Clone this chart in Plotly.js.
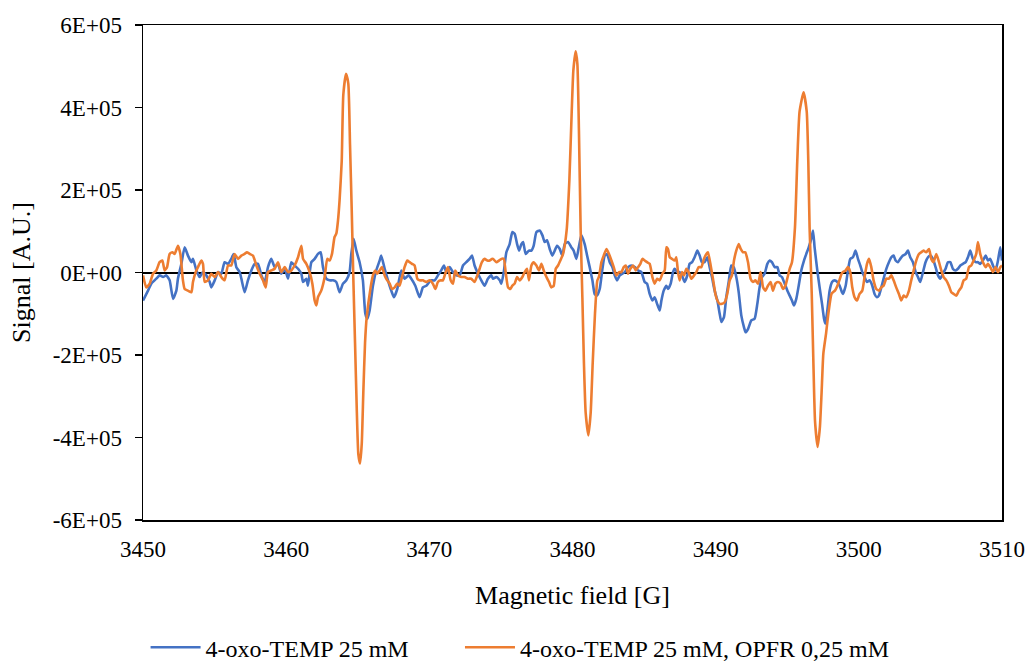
<!DOCTYPE html>
<html>
<head>
<meta charset="utf-8">
<script src="https://cdn.plot.ly/plotly-3.0.1.min.js"></script>
<style>html,body{margin:0;padding:0;background:#fff;}#chart{width:1028px;height:664px;}</style>
</head>
<body>
<div id="chart"></div>
<script>
// Series names
const seriesNames = ["4-oxo-TEMP 25 mM", "4-oxo-TEMP 25 mM, OPFR 0,25 mM"];

// Blue series: 4-oxo-TEMP 25 mM
const blueField = [
 3450.00,3450.35,3450.58,3450.93,3451.16,3451.40,3451.63,3451.86,3452.10,3452.33,
 3452.44,3452.68,3452.91,3453.14,3453.38,3453.49,3453.73,3453.96,3454.19,3454.42,
 3454.66,3454.77,3455.01,3455.24,3455.47,3455.70,3455.94,3456.17,3456.33,3456.52,
 3456.75,3456.87,3457.10,3457.33,3457.57,3457.80,3458.03,3458.27,3458.50,3458.73,
 3458.96,3459.20,3459.43,3459.66,3459.90,3460.13,3460.36,3460.59,3460.83,3461.06,
 3461.18,3461.41,3461.52,3461.76,3461.99,
 3462.22,3462.41,3462.57,3462.80,3463.03,3463.27,3463.50,3463.73,3463.97,3464.20,
 3464.43,3464.55,3464.71,3464.90,3465.13,3465.36,3465.53,3465.67,3465.83,3466.06,
 3466.29,3466.53,3466.64,3466.88,3467.11,3467.34,3467.53,3467.76,3468.04,3468.27,
 3468.55,3468.74,3469.02,3469.32,3469.55,3469.79,3470.09,3470.37,3470.60,3470.83,
 3471.02,3471.18,3471.42,3471.65,3471.88,3472.12,3472.35,3472.58,3472.81,3472.98,
 3473.16,3473.40,3473.63,3473.86,3474.09,3474.33,
 3474.45,3474.68,3474.92,3475.03,3475.20,3475.38,3475.61,3475.80,3475.96,3476.13,
 3476.27,3476.43,3476.55,3476.73,3476.96,3477.13,3477.29,3477.48,3477.71,3477.90,
 3478.06,3478.22,3478.41,3478.59,3478.76,3478.92,3479.11,3479.29,3479.46,3479.69,
 3479.92,3480.08,3480.27,3480.46,3480.62,3480.85,3481.02,3481.20,3481.39,3481.55,
 3481.71,3481.90,3482.09,3482.25,3482.41,3482.60,3482.79,3482.95,3483.11,3483.30,
 3483.48,3483.65,3483.88,3484.11,3484.35,3484.58,3484.81,3485.04,3485.21,3485.39,
 3485.58,3485.74,3485.91,3486.09,3486.21,3486.37,3486.56,
 3486.67,3486.86,3487.02,3487.14,3487.32,3487.48,3487.65,3487.83,3488.02,3488.18,
 3488.35,3488.53,3488.72,3488.88,3489.04,3489.23,3489.42,3489.58,3489.74,3489.93,
 3490.12,3490.28,3490.40,3490.58,3490.74,3490.91,3491.09,3491.26,3491.44,3491.61,
 3491.79,3491.98,3492.09,3492.26,3492.49,3492.72,3492.91,3493.07,3493.24,3493.42,
 3493.61,3493.77,3493.93,3494.12,3494.31,3494.47,3494.63,3494.82,3495.01,3495.17,
 3495.33,3495.47,3495.63,3495.80,3495.98,3496.17,3496.33,3496.50,3496.68,3496.80,
 3496.91,3497.10,3497.26,3497.43,3497.57,3497.66,3497.80,3497.96,3498.13,3498.31,
 3498.50,3498.66,3498.82,
 3498.89,3499.08,3499.24,3499.40,3499.59,3499.77,3499.94,3500.10,3500.24,3500.40,
 3500.57,3500.75,3500.94,3501.10,3501.26,3501.40,3501.57,3501.73,3501.92,3502.10,
 3502.27,3502.43,3502.57,3502.73,3502.89,3503.08,3503.27,3503.43,3503.59,3503.78,
 3503.97,3504.13,3504.29,3504.48,3504.66,3504.83,3504.99,3505.18,3505.36,3505.53,
 3505.69,3505.87,3506.06,3506.22,3506.39,3506.57,3506.76,3506.92,3507.09,3507.27,
 3507.46,3507.62,3507.78,3507.97,3508.16,3508.32,3508.48,3508.67,3508.86,3509.02,
 3509.18,3509.37,3509.55,3509.72,3509.88,3510.00
];
const blueSignal = [
 -68000,-44000,-27000,-15000,-7000,-11000,-7000,-19000,-64000,-44000,
 -15000,21000,61000,41000,25000,33000,5000,-11000,1000,-7000,
 -23000,-36000,-19000,1000,-3000,25000,21000,33000,45000,13000,
 1000,-15000,-48000,-19000,5000,21000,21000,-7000,-23000,13000,
 33000,13000,21000,-3000,9000,-15000,25000,17000,9000,-3000,
 -23000,-15000,-32000,25000,33000,
 45000,49000,13000,-15000,-19000,-19000,-23000,-48000,-27000,-19000,
 1000,45000,82000,53000,25000,-19000,-100000,-112000,-92000,-32000,
 5000,29000,41000,9000,-19000,-44000,-60000,-40000,5000,-15000,
 -7000,-15000,-32000,-60000,-36000,-32000,-19000,-19000,-7000,5000,
 17000,1000,13000,1000,-7000,-7000,17000,25000,33000,41000,
 17000,-3000,-19000,-32000,-15000,-7000,
 -15000,-11000,-19000,-27000,1000,49000,69000,98000,94000,69000,
 53000,69000,74000,45000,53000,53000,65000,98000,102000,90000,
 74000,78000,57000,41000,53000,65000,57000,41000,69000,74000,
 61000,53000,33000,65000,90000,69000,41000,13000,-19000,-52000,
 -56000,-40000,9000,41000,45000,25000,13000,-7000,-19000,-7000,
 -3000,1000,13000,17000,13000,5000,1000,-23000,-27000,-52000,
 -68000,-60000,-76000,-92000,-68000,-44000,-32000,
 -40000,-27000,1000,9000,1000,1000,-7000,-23000,-7000,21000,
 25000,37000,53000,41000,25000,25000,37000,13000,-11000,-44000,
 -68000,-100000,-120000,-108000,-60000,-23000,17000,13000,-11000,-48000,
 -104000,-133000,-145000,-137000,-116000,-112000,-76000,-36000,-11000,-3000,
 21000,29000,25000,13000,13000,-7000,-11000,-27000,-44000,-56000,
 -68000,-80000,-64000,-32000,5000,29000,45000,61000,82000,102000,
 61000,5000,-36000,-76000,-112000,-124000,-92000,-44000,-23000,-19000,
 -23000,-32000,-48000,
 -52000,-32000,5000,33000,37000,53000,33000,17000,1000,-11000,
 -23000,-19000,-32000,-52000,-60000,-56000,-36000,-15000,9000,25000,
 37000,41000,29000,25000,33000,41000,45000,53000,37000,25000,
 1000,-11000,-23000,1000,25000,37000,41000,33000,13000,-7000,
 -15000,-3000,9000,25000,25000,9000,5000,9000,17000,21000,
 25000,37000,53000,33000,25000,25000,21000,29000,41000,29000,
 33000,17000,5000,29000,61000,29000
];

// Orange series: 4-oxo-TEMP 25 mM, OPFR 0,25 mM
const orangeField = [
 3450.00,3450.23,3450.47,3450.70,3450.93,3451.16,3451.35,3451.51,3451.68,3451.86,
 3452.05,3452.21,3452.44,3452.61,3452.79,3452.91,3453.14,3453.38,3453.49,3453.68,
 3453.84,3454.07,3454.19,3454.31,3454.54,3454.77,3455.01,3455.24,3455.47,3455.70,
 3455.94,3456.17,3456.40,3456.64,3456.87,3457.10,3457.26,3457.45,3457.68,3457.92,
 3458.15,3458.38,3458.57,3458.73,3458.96,3459.20,3459.43,3459.66,3459.90,3460.13,
 3460.36,3460.59,3460.83,3461.06,3461.18,3461.41,3461.64,3461.83,3461.99,3462.11,
 3462.22,3462.45,3462.69,3462.87,3463.03,3463.20,3463.38,3463.50,3463.62,3463.73,
 3463.88,3463.99,3464.18,3464.34,3464.46,3464.58,3464.69,3464.81,3464.93,3465.04,
 3465.16,3465.28,3465.39,3465.51,3465.62,3465.90,3466.06,3466.22,3466.36,3466.53,
 3466.69,3466.88,3467.06,3467.23,3467.39,3467.58,3467.76,3467.92,3468.09,3468.27,
 3468.46,3468.62,3468.79,3468.97,3469.16,3469.32,3469.55,3469.79,3470.02,3470.25,
 3470.42,3470.60,3470.79,3470.95,3471.11,3471.30,3471.49,3471.65,3471.81,3472.00,
 3472.23,3472.46,3472.70,3472.93,3473.16,3473.35,3473.51,3473.67,3473.86,3474.05,
 3474.21,3474.37,
 3474.45,3474.68,3474.87,3475.03,3475.20,3475.33,3475.50,3475.66,3475.80,3475.96,
 3476.13,3476.31,3476.50,3476.66,3476.82,3476.96,3477.13,3477.29,3477.48,3477.66,
 3477.83,3477.99,3478.18,3478.36,3478.52,3478.69,3478.83,3478.99,3479.15,3479.34,
 3479.59,3479.78,3479.94,3480.06,3480.22,3480.34,3480.45,3480.57,3480.69,3480.80,
 3480.92,3481.11,3481.27,3481.41,3481.57,3481.73,3481.85,3482.02,3482.18,3482.37,
 3482.55,3482.72,3482.88,3483.06,3483.25,3483.41,3483.58,3483.72,3483.88,3484.04,
 3484.23,3484.42,3484.58,3484.74,3484.88,3485.04,3485.21,3485.39,3485.58,3485.74,
 3485.91,3486.09,3486.28,3486.44,3486.56,
 3486.67,3486.79,3486.95,3487.14,3487.25,3487.37,3487.48,3487.65,3487.79,3487.95,
 3488.11,3488.30,3488.49,3488.65,3488.81,3489.00,3489.18,3489.35,3489.46,3489.65,
 3489.81,3489.98,3490.12,3490.28,3490.44,3490.63,3490.81,3490.98,3491.14,3491.28,
 3491.44,3491.61,3491.75,3491.91,3492.07,3492.26,3492.44,3492.61,3492.77,3492.96,
 3493.14,3493.31,3493.47,3493.65,3493.84,3494.00,3494.17,3494.35,3494.54,3494.70,
 3494.87,3495.00,3495.17,3495.33,3495.54,3495.70,3495.86,3496.14,3496.36,3496.47,
 3496.56,3496.71,3496.82,3496.94,3497.12,3497.28,3497.40,3497.52,3497.71,3497.87,
 3498.10,3498.33,3498.56,3498.80,
 3498.89,3499.08,3499.24,3499.40,3499.54,3499.70,3499.87,3500.05,3500.24,3500.40,
 3500.57,3500.71,3500.87,3501.03,3501.22,3501.40,3501.57,3501.73,3501.92,3502.10,
 3502.27,3502.43,3502.61,3502.80,3502.96,3503.13,3503.31,3503.50,3503.66,3503.83,
 3504.01,3504.20,3504.36,3504.52,3504.71,3504.90,3505.06,3505.22,3505.41,3505.60,
 3505.76,3505.92,3506.11,3506.29,3506.46,3506.62,3506.81,3506.99,3507.16,3507.32,
 3507.50,3507.69,3507.85,3508.02,3508.20,3508.32,3508.48,3508.67,3508.86,3509.02,
 3509.18,3509.37,3509.55,3509.72,3509.88,3510.00
];
const orangeSignal = [
 -7000,-36000,-27000,-3000,5000,25000,29000,5000,13000,45000,
 49000,45000,65000,45000,-19000,-40000,-44000,-48000,-23000,1000,
 13000,29000,21000,-23000,-19000,-3000,-11000,1000,-11000,-19000,
 17000,17000,45000,33000,41000,45000,49000,45000,41000,17000,
 -3000,-19000,-36000,1000,5000,9000,25000,1000,13000,1000,
 5000,17000,37000,65000,33000,21000,1000,-27000,-68000,-80000,
 -60000,-44000,-11000,33000,29000,45000,86000,94000,126000,175000,
 270000,430000,482000,458000,310000,150000,-12000,-170000,-330000,-440000,
 -463000,-415000,-290000,-170000,-110000,-36000,-7000,5000,-3000,5000,
 13000,-7000,-19000,-27000,-40000,-36000,-27000,-32000,-11000,13000,
 29000,25000,21000,17000,-15000,-19000,-19000,-23000,-19000,-27000,
 -40000,-23000,-19000,-19000,-3000,13000,-19000,-27000,5000,-7000,
 -11000,-11000,-15000,-15000,-23000,-7000,9000,25000,33000,29000,
 29000,33000,
 33000,25000,29000,33000,33000,1000,-36000,-40000,-32000,-27000,
 -11000,-19000,-11000,1000,9000,-19000,17000,25000,17000,5000,
 21000,5000,-11000,-23000,-36000,-32000,9000,17000,29000,45000,
 102000,223000,385000,490000,536000,506000,344000,102000,-61000,-220000,
 -340000,-395000,-340000,-220000,-100000,-20000,-10000,25000,41000,57000,
 45000,29000,13000,-7000,1000,1000,13000,17000,-3000,9000,
 17000,5000,13000,21000,33000,29000,25000,21000,-11000,-27000,
 -15000,-19000,-3000,5000,61000,
 57000,37000,33000,29000,37000,1000,-19000,1000,-7000,9000,
 1000,-15000,-7000,1000,13000,13000,33000,45000,49000,17000,
 -15000,-52000,-68000,-76000,-76000,-72000,-52000,-19000,-7000,29000,
 53000,69000,57000,49000,49000,25000,-15000,-23000,-19000,-27000,
 1000,-36000,-44000,-32000,-23000,-44000,-27000,-23000,-27000,-40000,
 -32000,-15000,9000,25000,110000,270000,390000,437000,390000,270000,
 110000,-51000,-210000,-360000,-423000,-375000,-290000,-197000,-148000,-100000,
 -51000,-44000,-27000,-3000,
 1000,5000,13000,1000,-36000,-60000,-68000,-52000,-44000,-11000,
 21000,33000,13000,-19000,-40000,-44000,-36000,-32000,-15000,-15000,
 -7000,-19000,-36000,-52000,-68000,-56000,-60000,-44000,-19000,5000,
 29000,45000,49000,53000,49000,57000,33000,25000,45000,25000,
 5000,-11000,-19000,-32000,-48000,-52000,-56000,-44000,-36000,-19000,
 -15000,13000,17000,29000,45000,74000,45000,25000,13000,21000,
 13000,1000,13000,1000,13000,17000
];

// Axis ticks
const xTickVals = [3450, 3460, 3470, 3480, 3490, 3500, 3510];
const yTickVals = [-600000, -400000, -200000, 0, 200000, 400000, 600000];
const yTickText = ["-6E+05", "-4E+05", "-2E+05", "0E+00", "2E+05", "4E+05", "6E+05"];

const serif = "'Liberation Serif', 'Times New Roman', serif";

const traces = [
  {x: blueField, y: blueSignal, name: seriesNames[0], type: 'scatter', mode: 'lines', legend: 'legend',
   line: {color: '#4472C4', width: 2.6, shape: 'spline', smoothing: 0.5}},
  {x: orangeField, y: orangeSignal, name: seriesNames[1], type: 'scatter', mode: 'lines', legend: 'legend2',
   line: {color: '#ED7D31', width: 2.6, shape: 'spline', smoothing: 0.5}}
];

const legendFont = {family: serif, size: 24, color: '#000'};

const layout = {
  width: 1028, height: 664,
  margin: {l: 143, r: 26, t: 25, b: 144, autoexpand: false},
  paper_bgcolor: '#ffffff', plot_bgcolor: '#ffffff',
  font: {family: serif, color: '#000000', size: 23},
  showlegend: true,
  legend: {orientation: 'h', x: 0.003, xanchor: 'left', y: -0.258, yanchor: 'middle',
           itemwidth: 50, font: legendFont, bgcolor: 'rgba(0,0,0,0)'},
  legend2: {orientation: 'h', x: 0.369, xanchor: 'left', y: -0.258, yanchor: 'middle',
           itemwidth: 50, font: legendFont, bgcolor: 'rgba(0,0,0,0)'},
  xaxis: {
    range: [3450, 3510], tickvals: xTickVals, ticks: '', showgrid: false, zeroline: false,
    showline: true, mirror: true, linecolor: '#000', linewidth: 1.5, automargin: false,
    tickfont: {family: serif, size: 23, color: '#000'}, ticklabelstandoff: 8,
    title: {text: 'Magnetic field [G]', font: {family: serif, size: 26, color: '#000'}, standoff: 24}
  },
  yaxis: {
    range: [-600000, 600000], tickvals: yTickVals, ticktext: yTickText, automargin: false,
    ticks: 'outside', ticklen: 7, tickwidth: 1.5, tickcolor: '#000',
    showgrid: false, zeroline: true, zerolinecolor: '#000', zerolinewidth: 2,
    showline: true, mirror: true, linecolor: '#000', linewidth: 1.5,
    tickfont: {family: serif, size: 23, color: '#000'}, ticklabelstandoff: 8,
    title: {text: 'Signal [A.U.]', font: {family: serif, size: 26, color: '#000'}, standoff: 14}
  }
};

Plotly.newPlot('chart', traces, layout, {displayModeBar: false, staticPlot: true});
</script>
</body>
</html>
